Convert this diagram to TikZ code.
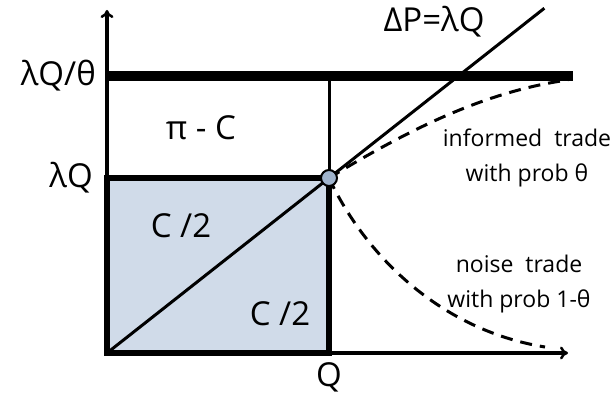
\documentclass[tikz,border=0pt]{standalone}
\usepackage{fontspec}
\setmainfont{Open Sans}
\usetikzlibrary{calc,arrows.meta}
\definecolor{boxfill}{RGB}{208,219,233}
\definecolor{dotfill}{RGB}{160,180,205}
\tikzset{
  big/.style={font=\fontsize{33}{36}\selectfont, inner sep=0pt},
  small/.style={font=\fontsize{23}{35}\selectfont, inner sep=0pt, align=center},
  axis/.style={line width=3.5pt, -{To[length=8pt,width=13pt,line width=2.5pt]}},
  boxline/.style={line width=6pt},
  thickline/.style={line width=10pt},
  thinline/.style={line width=3pt},
  dashline/.style={line width=3pt, dash pattern=on 12pt off 8pt},
}
\begin{document}
\begin{tikzpicture}[x=1pt,y=-1pt]
\useasboundingbox (0,0) rectangle (613,398);
\coordinate (O) at (107,353);
\coordinate (C) at (329,178);
\coordinate (Ytop) at (107,10);
\coordinate (Xend) at (568,353);
\coordinate (Qtop) at (329,76);
\coordinate (Lstart) at (107,76);
\coordinate (Lend) at (573,76);
\coordinate (BL) at (107,178);
\coordinate (BR) at (329,353);
% shaded square
\fill[boxfill] (O) rectangle (C);
% diagonal
\coordinate (Dend) at ($(O)!1.97!(C)$);
\draw[thinline] (O) -- (Dend);
% axes
\draw[axis] (BR) -- (Xend);
\draw[axis] (BL) -- (Ytop);
% square border
\draw[boxline] (O) rectangle (C);
% vertical thin line
\draw[thinline] (C) -- (Qtop);
% thick line
\draw[thickline] (Lstart) -- (Lend);
% dashed curves
\coordinate (U) at (568,80);
\coordinate (N) at (545,347);
\draw[dashline] (C) .. controls (400,135) and (480,92) .. (U);
\draw[dashline] (C) .. controls (365,255) and (440,330) .. (N);
% dot
\node[circle, draw=black, line width=2pt, fill=dotfill, minimum size=16pt, inner sep=0pt] (dot) at (C) {};
% labels
\node[big, anchor=east] (l1) at (96,76) {λQ/θ};
\node[big, anchor=east] (l2) at (93,178) {λQ};
\node[big] (pc) at (201,128) {π - C};
\node[big] (c1) at (181,226) {C /2};
\node[big] (c2) at (280,314) {C /2};
\node[big] (q) at (329,377) {Q};
\node[big] (dp) at (434,22) {ΔP=λQ};
\node[small] (inf) at (527,158) {informed\ \ trade\\ with prob θ};
\node[small] (noi) at (519,284) {noise\ \ trade\\ with prob 1-θ};
\end{tikzpicture}
\end{document}
